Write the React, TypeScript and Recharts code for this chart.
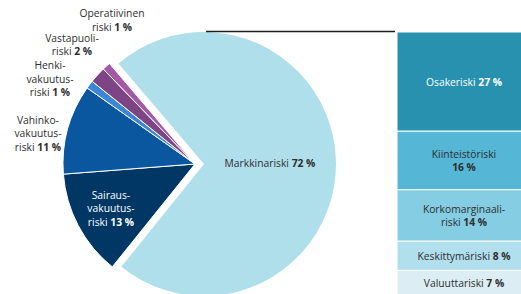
import { Bar, BarChart, Cell, LabelList, Pie, PieChart, XAxis, YAxis } from "recharts";

// solvency requirement split (%), pie
const pieNames = [
  "Markkinariski",
  "Sairausvakuutusriski",
  "Vahinkovakuutusriski",
  "Henkivakuutusriski",
  "Vastapuoliriski",
  "Operatiivinen riski",
];
const pieLines = [
  ["Markkinariski"],
  ["Sairaus-", "vakuutus-", "riski"],
  ["Vahinko-", "vakuutus-", "riski"],
  ["Henki-", "vakuutus-", "riski"],
  ["Vastapuoli-", "riski"],
  ["Operatiivinen", "riski"],
];
const pieValues = [72, 13, 11, 1, 2, 1];
const pieColors = ["#b0dfec", "#003764", "#0a57a0", "#3b86d6", "#7e4584", "#a35aa6"];

// market risk breakdown (%), stacked bar, top to bottom
const barNames = ["Osakeriski", "Kiinteistöriski", "Korkomarginaaliriski", "Keskittymäriski", "Valuuttariski"];
const barLines = [["Osakeriski"], ["Kiinteistöriski", ""], ["Korkomarginaali-", "riski"], ["Keskittymäriski"], ["Valuuttariski"]];
const barValues = [27, 16, 14, 8, 7];
const barColors = ["#2891b0", "#55b6d6", "#84cde3", "#b1dfed", "#dcedf4"];

const FONT = "'Open Sans', Lato, sans-serif";
const TEXT = "#2e2e2e";
const LH = 13.5;

const CX = 195;
const CY = 164;
const R = 132;
const EXPLODE = 9;
const START = 130.4;

const BAR_LEFT = 397;
const BAR_TOP = 32;
const BAR_W = 134;
const BAR_H = 264;

// label spots: null = along mid angle at radius factor, else [angle, radius]
const labelSpots: (null | [number, number])[] = [null, null, [169, 160], [149.5, 168.3], [135.8, 171.6], [120, 166]];
const insideFactor = [0.5, 0.72];

const pieData = pieNames.map((name, i) => ({ name, value: pieValues[i] }));
const barRow: Record<string, number | string> = { group: "Markkinariski" };
barNames.forEach((n, i) => (barRow[n] = barValues[i]));

const RAD = Math.PI / 180;

function MultiLine({ x, y, lines, value, fill }: { x: number; y: number; lines: string[]; value: number; fill: string }) {
  const n = lines.length;
  return (
    <text x={x} y={y} textAnchor="middle" fill={fill} fontFamily={FONT} fontSize={10.3} dominantBaseline="central">
      {lines.map((l, i) => {
        const last = i === n - 1;
        return (
          <tspan key={i} x={x} dy={i === 0 ? (-(n - 1) / 2) * LH : LH}>
            {last ? (l ? l + " " : "") : l}
            {last && <tspan fontWeight={700}>{value} %</tspan>}
          </tspan>
        );
      })}
    </text>
  );
}

function pieLabel(which: "main" | "rest") {
  return (props: any) => {
    const { index, midAngle, cx, cy } = props;
    if ((which === "main") !== (index === 0)) return null;
    const spot = labelSpots[index];
    const ang = spot ? spot[0] : midAngle;
    const rad = spot ? spot[1] : R * insideFactor[index];
    const x = cx + Math.cos(-ang * RAD) * rad;
    const y = cy + Math.sin(-ang * RAD) * rad;
    return (
      <MultiLine
        key={index}
        x={x}
        y={y}
        lines={pieLines[index]}
        value={pieValues[index]}
        fill={index === 1 ? "#ffffff" : TEXT}
      />
    );
  };
}

export default function App() {
  const stackOrder = barNames.map((_, i) => i).reverse();
  return (
    <div
      style={{
        position: "fixed",
        left: 0,
        top: 0,
        width: 521,
        height: 294,
        overflow: "hidden",
        background: "#fff",
      }}
    >
      <div style={{ position: "absolute", left: 0, top: 0 }}>
        <PieChart width={380} height={320} margin={{ top: 0, right: 0, bottom: 0, left: 0 }}>
          <Pie
            data={pieData}
            dataKey="value"
            nameKey="name"
            cx={CX}
            cy={CY}
            outerRadius={R}
            startAngle={START}
            endAngle={START - 360}
            stroke="#fff"
            strokeWidth={1}
            labelLine={false}
            label={pieLabel("rest")}
            isAnimationActive={false}
          >
            {pieData.map((d, i) => (
              <Cell key={d.name} fill={i === 0 ? "none" : pieColors[i]} stroke={i === 0 ? "none" : "#fff"} />
            ))}
          </Pie>
          <Pie
            data={pieData}
            dataKey="value"
            nameKey="name"
            cx={CX + EXPLODE}
            cy={CY}
            outerRadius={R}
            startAngle={START}
            endAngle={START - 360}
            stroke="none"
            labelLine={false}
            label={pieLabel("main")}
            isAnimationActive={false}
          >
            {pieData.map((d, i) => (
              <Cell key={d.name} fill={i === 0 ? pieColors[0] : "none"} />
            ))}
          </Pie>
        </PieChart>
      </div>
      <svg style={{ position: "absolute", left: 0, top: 0 }} width={521} height={294}>
        <line x1={CX + EXPLODE + 2} y1={BAR_TOP - 0.5} x2={BAR_LEFT - 2} y2={BAR_TOP - 0.5} stroke="#1e1e1e" strokeWidth={1.3} />
      </svg>
      <div style={{ position: "absolute", left: BAR_LEFT, top: 0 }}>
        <BarChart
          width={BAR_W}
          height={BAR_TOP + BAR_H + 10}
          data={[barRow]}
          margin={{ top: BAR_TOP, right: 0, bottom: 10, left: 0 }}
          barCategoryGap={0}
        >
          <XAxis dataKey="group" hide />
          <YAxis hide domain={[0, 72]} />
          {stackOrder.map((i) => (
            <Bar
              key={barNames[i]}
              dataKey={barNames[i]}
              stackId="m"
              fill={barColors[i]}
              stroke="#fff"
              strokeWidth={1}
              isAnimationActive={false}
            >
              <LabelList
                dataKey={barNames[i]}
                content={(p: any) => (
                  <MultiLine
                    x={Number(p.x) + Number(p.width) / 2}
                    y={Number(p.y) + Number(p.height) / 2}
                    lines={barLines[i]}
                    value={barValues[i]}
                    fill={i === 0 ? "#ffffff" : TEXT}
                  />
                )}
              />
            </Bar>
          ))}
        </BarChart>
      </div>
    </div>
  );
}
